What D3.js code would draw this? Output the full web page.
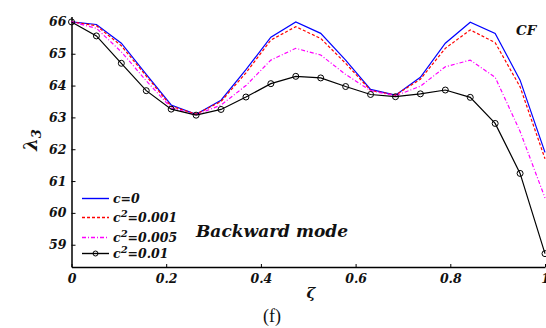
<!DOCTYPE html>
<html>
<head>
<meta charset="utf-8">
<script src="https://cdn.jsdelivr.net/npm/d3@7"></script>
<style>
  html, body { margin: 0; padding: 0; background: #fff; }
  svg { display: block; }
  .lab { font-family: "DejaVu Serif", serif; font-weight: bold; font-style: italic; }
</style>
</head>
<body>
<svg id="chart" width="546" height="328"></svg>
<script>
// zeta sampled at 20 equally spaced points
const zeta = d3.range(20).map(i => i / 19);

const c0 = [66.0, 65.92, 65.33, 64.35, 63.39, 63.1, 63.54, 64.5, 65.52, 66.0,
            65.64, 64.8, 63.88, 63.7, 64.26, 65.33, 65.99, 65.64, 64.17, 61.9];
const c001 = [66.0, 65.88, 65.25, 64.3, 63.35, 63.1, 63.5, 64.4, 65.43, 65.85,
              65.48, 64.7, 63.85, 63.7, 64.2, 65.17, 65.75, 65.35, 63.96, 61.7];
const c005 = [66.0, 65.8, 65.06, 64.15, 63.3, 63.08, 63.39, 64.0, 64.8, 65.17,
              64.96, 64.35, 63.84, 63.68, 63.98, 64.59, 64.8, 64.26, 62.56, 60.47];
const c01 = [66.0, 65.56, 64.7, 63.84, 63.26, 63.07, 63.25, 63.64, 64.06, 64.29,
             64.24, 63.97, 63.72, 63.65, 63.74, 63.86, 63.63, 62.81, 61.24, 58.72];

const xTicks = [0, 0.2, 0.4, 0.6, 0.8, 1];
const yTicks = [59, 60, 61, 62, 63, 64, 65, 66];

const series = [
  { name: "c=0", sup: false, values: c0, color: "#0000ff", dash: null, marker: false },
  { name: "0.001", sup: true, values: c001, color: "#ff0000", dash: "3,2", marker: false },
  { name: "0.005", sup: true, values: c005, color: "#ff00ff", dash: "4,2,1,2", marker: false },
  { name: "0.01", sup: true, values: c01, color: "#000000", dash: null, marker: true }
];

const svg = d3.select("#chart");
const x = d3.scaleLinear().domain([0, 1]).range([71.5, 545]);
const y = d3.scaleLinear().domain([58.3, 66.17]).range([267, 16.5]);

// axes
const xAxis = svg.append("g").attr("transform", "translate(0,267)")
  .call(d3.axisBottom(x).tickValues(xTicks).tickFormat(d => d === 0 || d === 1 ? d : d3.format(".1f")(d)).tickSizeInner(-3).tickSizeOuter(0).tickPadding(7));
const yAxis = svg.append("g").attr("transform", "translate(71.5,0)")
  .call(d3.axisLeft(y).tickValues(yTicks).tickSizeInner(-4).tickSizeOuter(0).tickPadding(5));
[xAxis, yAxis].forEach(g => {
  g.select(".domain").attr("stroke", "#000").attr("stroke-width", 1.5);
  g.selectAll(".tick line").attr("stroke", "#000");
  g.selectAll(".tick text").attr("class", "lab").attr("font-size", 12.5).attr("fill", "#111");
});

const line = d3.line().x((d, i) => x(zeta[i])).y(d => y(d));

series.forEach(s => {
  svg.append("path").datum(s.values)
    .attr("d", line)
    .attr("fill", "none")
    .attr("stroke", s.color)
    .attr("stroke-width", 1.2)
    .attr("stroke-dasharray", s.dash);
  if (s.marker) {
    svg.append("g").selectAll("circle").data(s.values).join("circle")
      .attr("cx", (d, i) => x(zeta[i]))
      .attr("cy", d => y(d))
      .attr("r", 3)
      .attr("fill", "none")
      .attr("stroke", s.color)
      .attr("stroke-width", 1);
  }
});

// legend
const legY = [198.5, 217.5, 237.5, 253.5];
series.forEach((s, i) => {
  const g = svg.append("g").attr("transform", `translate(82,${legY[i]})`);
  g.append("line").attr("x1", 0).attr("x2", 27).attr("y1", 0).attr("y2", 0)
    .style("stroke", s.color).style("stroke-width", 1.4).style("stroke-dasharray", s.dash);
  if (s.marker) g.append("circle").attr("cx", 13.5).attr("r", 2.5)
    .attr("fill", "none").attr("stroke", s.color);
  const t = g.append("text").attr("class", "lab").attr("x", 31).attr("y", 4.5)
    .attr("font-size", 12.5).attr("fill", "#111");
  if (s.sup) {
    t.append("tspan").text("c");
    t.append("tspan").attr("dy", -5).attr("font-size", 10).text("2");
    t.append("tspan").attr("dy", 5).text("=" + s.name);
  } else {
    t.text(s.name);
  }
});

svg.append("text").attr("class", "lab").attr("x", 196).attr("y", 237)
  .attr("font-size", 17).attr("fill", "#111").text("Backward mode");
svg.append("text").attr("class", "lab").attr("x", 516).attr("y", 35)
  .attr("font-size", 13.5).attr("fill", "#111").text("CF");

// axis titles
const yl = svg.append("text").attr("class", "lab")
  .attr("transform", "translate(37,140) rotate(-90)")
  .attr("text-anchor", "middle").attr("font-size", 18).attr("fill", "#111");
yl.append("tspan").text("λ");
yl.append("tspan").attr("dy", 4).attr("font-size", 13).text("3");

svg.append("text").attr("class", "lab").attr("x", 311).attr("y", 298)
  .attr("text-anchor", "middle").attr("font-size", 15).attr("fill", "#111").text("ζ");
svg.append("text").attr("x", 272).attr("y", 322)
  .attr("text-anchor", "middle").attr("font-family", "Liberation Serif, serif")
  .attr("font-size", 18).attr("fill", "#111").text("(f)");
</script>
</body>
</html>
